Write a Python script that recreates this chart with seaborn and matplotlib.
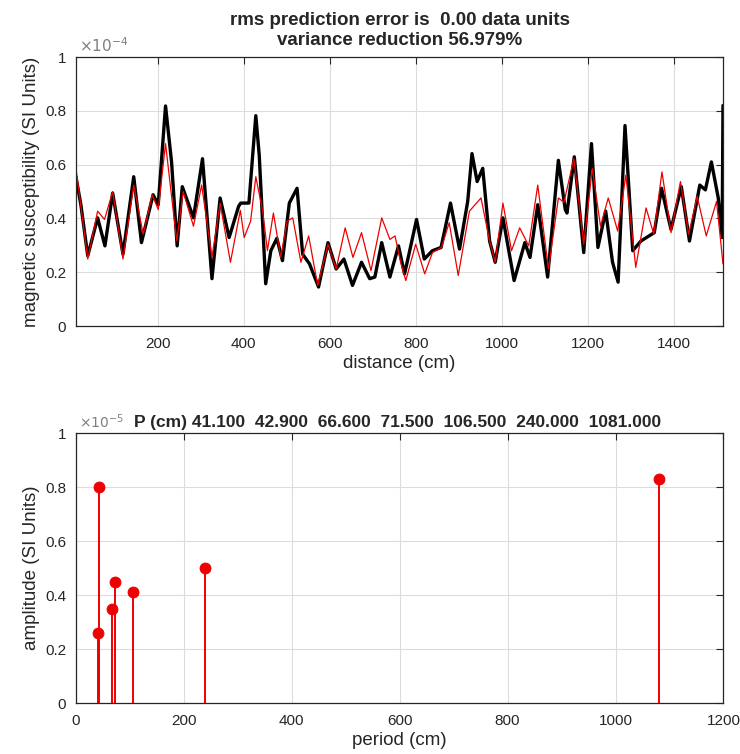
import matplotlib
matplotlib.use("Agg")
import matplotlib.pyplot as plt
import seaborn as sns
import pandas as pd

# Observed magnetic susceptibility along the core (x 1e-4 SI units)
obs_dist = [9.5, 21, 37, 60, 77, 95, 119, 144, 162, 189, 201, 218, 232, 245, 257,
            283, 304, 326, 345, 366, 388, 393, 412, 428, 436, 451, 463, 477, 490,
            506, 524, 537, 553, 574, 596, 615, 633, 653, 674, 693, 705, 721, 740,
            760, 774, 781, 802, 820, 839, 859, 881, 902, 921, 931, 943, 956, 972,
            985, 1003, 1029, 1054, 1066, 1084, 1107, 1132, 1148, 1152, 1169, 1191,
            1209, 1224, 1242, 1258, 1271, 1287, 1305, 1324, 1355, 1372, 1394, 1418,
            1437, 1461, 1474, 1488, 1504, 1513, 1515]
obs_susc = [0.555, 0.451, 0.261, 0.402, 0.298, 0.494, 0.267, 0.555, 0.310, 0.488,
            0.451, 0.818, 0.610, 0.298, 0.518, 0.402, 0.622, 0.176, 0.476, 0.329,
            0.445, 0.457, 0.457, 0.782, 0.635, 0.157, 0.280, 0.326, 0.243, 0.457,
            0.512, 0.267, 0.231, 0.145, 0.310, 0.212, 0.249, 0.151, 0.237, 0.176,
            0.182, 0.310, 0.182, 0.298, 0.194, 0.243, 0.396, 0.249, 0.280, 0.292,
            0.457, 0.286, 0.463, 0.641, 0.537, 0.586, 0.316, 0.237, 0.402, 0.169,
            0.310, 0.255, 0.451, 0.182, 0.616, 0.433, 0.420, 0.629, 0.273, 0.678,
            0.292, 0.427, 0.237, 0.163, 0.745, 0.280, 0.316, 0.347, 0.512, 0.359,
            0.518, 0.316, 0.524, 0.506, 0.610, 0.476, 0.329, 0.820]

# Sinusoidal model prediction (x 1e-4 SI units)
pred_dist = [9.5, 37, 60, 76, 95, 119, 144, 166, 187, 201, 218, 244, 259, 283,
             302, 326, 345, 369, 392, 401, 416, 428, 444, 455, 469, 486, 501, 514,
             533, 551, 572, 596, 615, 636, 654, 674, 696, 721, 740, 752, 765, 777,
             800, 821, 839, 860, 878, 899, 925, 952, 972, 985, 1003, 1023, 1042,
             1063, 1084, 1109, 1132, 1145, 1168, 1191, 1211, 1230, 1248, 1270, 1289,
             1312, 1336, 1354, 1373, 1394, 1416, 1435, 1455, 1476, 1500, 1515]
pred_susc = [0.587, 0.249, 0.427, 0.396, 0.500, 0.249, 0.524, 0.341, 0.488, 0.433,
             0.678, 0.316, 0.500, 0.371, 0.524, 0.255, 0.457, 0.237, 0.430, 0.329,
             0.390, 0.555, 0.427, 0.280, 0.420, 0.255, 0.390, 0.402, 0.237, 0.335,
             0.151, 0.304, 0.212, 0.365, 0.255, 0.347, 0.206, 0.402, 0.322, 0.335,
             0.237, 0.169, 0.304, 0.194, 0.273, 0.292, 0.384, 0.188, 0.427, 0.476,
             0.316, 0.237, 0.457, 0.280, 0.365, 0.298, 0.524, 0.212, 0.476, 0.460,
             0.622, 0.304, 0.586, 0.371, 0.476, 0.353, 0.561, 0.218, 0.439, 0.341,
             0.573, 0.347, 0.537, 0.341, 0.482, 0.335, 0.463, 0.231]

# Fitted periods (cm) and their amplitudes (x 1e-5 SI units)
periods = [41.1, 42.9, 66.6, 71.5, 106.5, 240.0, 1081.0]
amplitudes = [0.26, 0.80, 0.35, 0.45, 0.41, 0.50, 0.83]

dist_ticks = [200, 400, 600, 800, 1000, 1200, 1400]
susc_ticks = [0, 0.2, 0.4, 0.6, 0.8, 1]
period_ticks = [0, 200, 400, 600, 800, 1000, 1200]

RED = "#ee0000"

sns.set_theme(style="white")
plt.rcParams['font.family'] = ['Liberation Sans', 'DejaVu Sans']

fig = plt.figure(figsize=(7.4, 7.54), dpi=100)
ax1 = fig.add_axes([0.1026, 0.5676, 0.875, 0.3568])
ax2 = fig.add_axes([0.1026, 0.0676, 0.875, 0.358])


def matlab_axes(ax):
    ax.set_facecolor("white")
    ax.grid(True, color="#dcdcdc", linewidth=0.8)
    ax.set_axisbelow(True)
    for s in ax.spines.values():
        s.set_color("#262626")
        s.set_linewidth(0.9)
    ax.tick_params(direction="in", length=5, width=0.8, top=True, right=True,
                   labelsize=11, colors="#262626")
    ax.tick_params(axis="x", pad=8)
    ax.tick_params(axis="y", pad=7)
    ax.yaxis.set_major_formatter(matplotlib.ticker.FormatStrFormatter("%g"))


obs = pd.DataFrame({"distance": obs_dist, "susc": obs_susc})
pred = pd.DataFrame({"distance": pred_dist, "susc": pred_susc})
sns.lineplot(data=obs, x="distance", y="susc", ax=ax1, color="black",
             linewidth=2.4, estimator=None, sort=False)
sns.lineplot(data=pred, x="distance", y="susc", ax=ax1, color=RED,
             linewidth=0.9, estimator=None, sort=False)
ax1.set_xlim(9.5, 1516)
ax1.set_ylim(0, 1)
ax1.set_xticks(dist_ticks)
ax1.set_yticks(susc_ticks)
matlab_axes(ax1)
ax1.set_xlabel("distance (cm)", fontsize=13.5, labelpad=3)
ax1.set_ylabel("magnetic susceptibility (SI Units)", fontsize=13.5, labelpad=4)
ax1.set_title("rms prediction error is  0.00 data units\nvariance reduction 56.979%",
              fontsize=13.5, fontweight="bold", pad=9, linespacing=1.2)
ax1.text(0.004, 1.006, r"$\times10^{-4}$", transform=ax1.transAxes, color="#7f7f7f",
         fontsize=11, ha="left", va="bottom")

stem = pd.DataFrame({"period": periods, "amplitude": amplitudes})
ax2.vlines(stem["period"], 0, stem["amplitude"], color=RED, linewidth=1.4, zorder=3)
sns.scatterplot(data=stem, x="period", y="amplitude", ax=ax2, color=RED,
                edgecolor=RED, s=62, zorder=4)
ax2.set_xlim(0, 1200)
ax2.set_ylim(0, 1)
ax2.set_xticks(period_ticks)
ax2.set_yticks(susc_ticks)
matlab_axes(ax2)
ax2.set_xlabel("period (cm)", fontsize=13.5, labelpad=3)
ax2.set_ylabel("amplitude (SI Units)", fontsize=13.5, labelpad=4)
ax2.text(0.004, 1.006, r"$\times10^{-5}$", transform=ax2.transAxes, color="#7f7f7f",
         fontsize=10, ha="left", va="bottom")
period_text = "P (cm) " + "  ".join(f"{p:.3f}" for p in periods)
ax2.text(0.497, 1.01, period_text, transform=ax2.transAxes, fontsize=12.5,
         fontweight="bold", ha="center", va="bottom")

fig.savefig("out.png", dpi=100, facecolor="white")
